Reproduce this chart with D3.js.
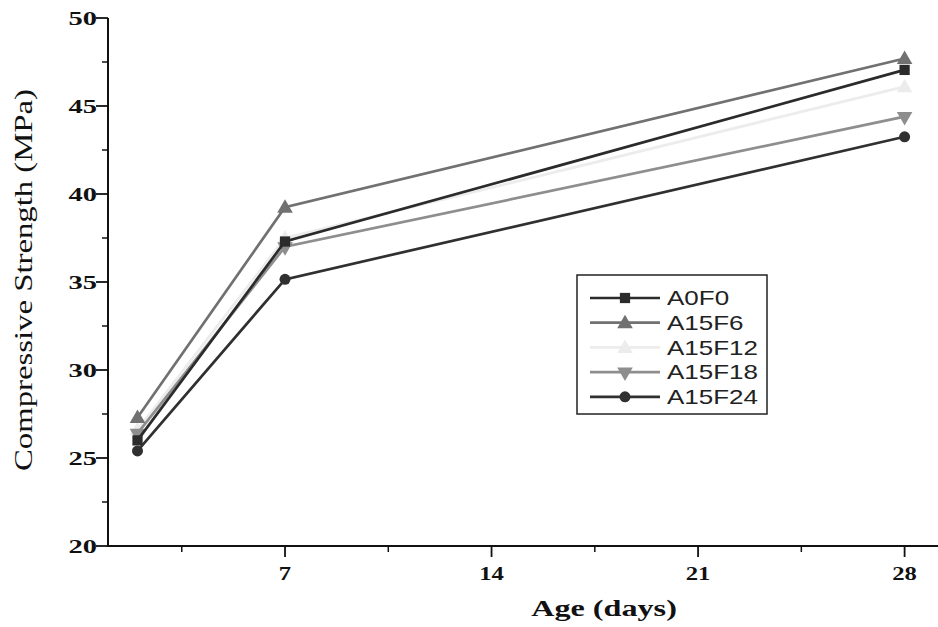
<!DOCTYPE html>
<html>
<head>
<meta charset="utf-8">
<script src="https://cdn.jsdelivr.net/npm/d3@7"></script>
<style>
  html, body { margin: 0; padding: 0; background: #fff; }
  svg { display: block; }
</style>
</head>
<body>
<svg id="chart" width="938" height="627"></svg>
<script>
const ages = [2, 7, 28];
const seriesNames = ["A0F0", "A15F6", "A15F12", "A15F18", "A15F24"];
const A0F0   = [26.0, 37.3, 47.05];
const A15F6  = [27.3, 39.25, 47.7];
const A15F12 = [26.6, 37.5, 46.1];
const A15F18 = [26.4, 37.0, 44.4];
const A15F24 = [25.4, 35.15, 43.25];
const xTicks = [7, 14, 21, 28];
const yTicks = [20, 25, 30, 35, 40, 45, 50];

const seriesValues = [A0F0, A15F6, A15F12, A15F18, A15F24];
const colors = ["#2b2b2b", "#717171", "#ececec", "#8e8e8e", "#303030"];
const symbols = [d3.symbolSquare, d3.symbolTriangle, d3.symbolTriangle, "down", d3.symbolCircle];

const svg = d3.select("#chart");
const x = d3.scaleLinear().domain([1, 29.2]).range([108, 940]);
const y = d3.scaleLinear().domain([20, 50]).range([546, 18]);

// stretched text helper (reference text is horizontally widened)
function sText(g, tx, ty, str, opts) {
  return g.append("text")
    .attr("transform", `translate(${tx},${ty}) scale(${opts.sx || 1},1)`)
    .attr("text-anchor", opts.anchor || "start")
    .attr("dy", opts.dy || null)
    .attr("font-family", opts.family)
    .attr("font-weight", opts.weight || "normal")
    .attr("font-size", opts.size)
    .attr("fill", opts.fill || "#111")
    .text(str);
}

// Axes
const yAxis = svg.append("g").attr("transform", "translate(108,0)");
yAxis.append("line").attr("x1", 0).attr("x2", 0).attr("y1", y(50)).attr("y2", y(20) + 1)
  .attr("stroke", "#111").attr("stroke-width", 2);
yAxis.selectAll(".maj").data(yTicks).enter().append("line")
  .attr("x1", -12).attr("x2", 0).attr("y1", d => y(d)).attr("y2", d => y(d))
  .attr("stroke", "#111").attr("stroke-width", 1.8);
yAxis.selectAll(".min").data(d3.range(22.5, 50, 5)).enter().append("line")
  .attr("x1", -6).attr("x2", 0).attr("y1", d => y(d)).attr("y2", d => y(d))
  .attr("stroke", "#111").attr("stroke-width", 1.5);
yTicks.forEach(d => sText(yAxis, -11, y(d), d, {
  anchor: "end", dy: "0.35em", family: "Liberation Serif, serif", weight: "bold", size: 19, sx: 1.5 }));

const xAxis = svg.append("g").attr("transform", "translate(0,546)");
xAxis.append("line").attr("x1", 107).attr("x2", 938).attr("y1", 0).attr("y2", 0)
  .attr("stroke", "#111").attr("stroke-width", 2);
xAxis.selectAll(".maj").data(xTicks).enter().append("line")
  .attr("x1", d => x(d)).attr("x2", d => x(d)).attr("y1", 0).attr("y2", 11)
  .attr("stroke", "#111").attr("stroke-width", 1.8);
xAxis.selectAll(".min").data([3.5, 10.5, 17.5, 24.5]).enter().append("line")
  .attr("x1", d => x(d)).attr("x2", d => x(d)).attr("y1", 0).attr("y2", 6)
  .attr("stroke", "#111").attr("stroke-width", 1.5);
xTicks.forEach(d => sText(xAxis, x(d), 34, d, {
  anchor: "middle", family: "Liberation Serif, serif", weight: "bold", size: 19, sx: 1.3 }));

// Titles
sText(svg, 604, 616, "Age (days)", {
  anchor: "middle", family: "Liberation Serif, serif", weight: "bold", size: 23, sx: 1.4 });
svg.append("text")
  .attr("transform", "translate(32,280) rotate(-90)")
  .attr("text-anchor", "middle")
  .attr("font-family", "Liberation Serif, serif")
  .attr("font-size", 26).attr("fill", "#111")
  .attr("textLength", 382).attr("lengthAdjust", "spacingAndGlyphs")
  .text("Compressive Strength (MPa)");

// Lines
const line = d3.line().x((d, i) => x(ages[i])).y(d => y(d));
function symPath(s, size) {
  if (s === "down") return d3.symbol().type(d3.symbolTriangle).size(size)();
  return d3.symbol().type(s).size(size)();
}
function symTransform(s, px, py) {
  if (s === "down") return `translate(${px},${py}) rotate(180)`;
  if (s === d3.symbolTriangle) return `translate(${px},${py + 1})`;
  return `translate(${px},${py})`;
}
const order = [2, 3, 0, 4, 1];
order.forEach(k => {
  const vals = seriesValues[k];
  svg.append("path").attr("d", line(vals)).attr("fill", "none")
    .attr("stroke", colors[k]).attr("stroke-width", 2.7);
  vals.forEach((v, i) => {
    svg.append("path").attr("d", symPath(symbols[k], symbols[k] === d3.symbolCircle ? 95 : 105))
      .attr("transform", symTransform(symbols[k], x(ages[i]), y(v)))
      .attr("fill", colors[k]);
  });
});

// Legend
const lg = svg.append("g").attr("transform", "translate(577,275)");
lg.append("rect").attr("x", 0).attr("y", 0).attr("width", 190).attr("height", 139)
  .attr("fill", "#fff").attr("stroke", "#222").attr("stroke-width", 1.5);
seriesNames.forEach((name, k) => {
  const ry = 23 + k * 24.7;
  lg.append("line").attr("x1", 13).attr("x2", 83).attr("y1", ry).attr("y2", ry)
    .attr("stroke", colors[k]).attr("stroke-width", 2.7);
  lg.append("path").attr("d", symPath(symbols[k], symbols[k] === d3.symbolCircle ? 95 : 105))
    .attr("transform", symTransform(symbols[k], 48, ry)).attr("fill", colors[k]);
  sText(lg, 90, ry, name, { dy: "0.36em", family: "Liberation Sans, Arial, sans-serif",
    size: 20, sx: 1.3, fill: "#222" });
});
</script>
</body>
</html>
